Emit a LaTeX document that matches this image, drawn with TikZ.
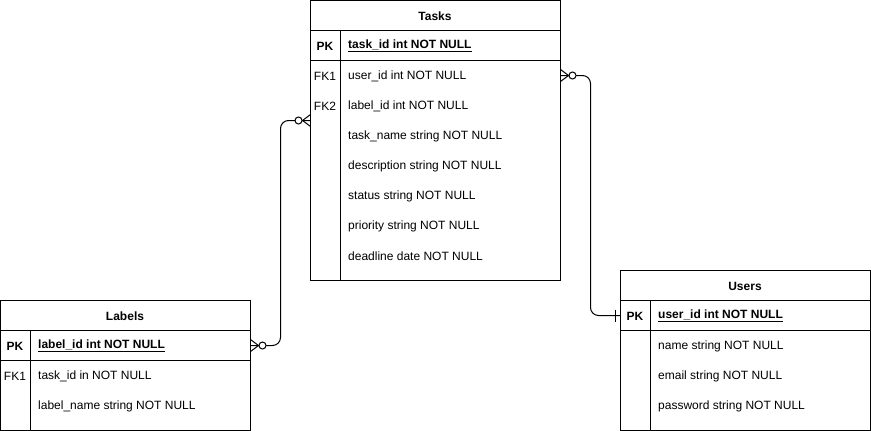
\documentclass[tikz,border=0pt]{standalone}
\usepackage{fontspec}
\setmainfont{Liberation Sans}
\usetikzlibrary{calc}
\begin{document}
\begin{tikzpicture}[x=1pt,y=-1pt,
  tbl/.style={draw=black,line width=1pt,fill=white,anchor=north west,inner sep=0pt,outer sep=0pt},
  hdr/.style={font=\fontsize{12}{14}\selectfont\bfseries,anchor=center,inner sep=0pt},
  key/.style={font=\fontsize{12}{14}\selectfont,anchor=center,inner sep=0pt},
  fld/.style={font=\fontsize{12}{14}\selectfont,anchor=west,inner sep=0pt},
  ln/.style={line width=1pt},
  conn/.style={line width=1pt,rounded corners=8pt},
  zc/.style={line width=1pt,fill=white}
]
\useasboundingbox (0,0) rectangle (871,431);
% ---------------- Tasks ----------------
\node[tbl,minimum width=250pt,minimum height=280pt] (tasks) at (310.5,0.5) {};
\draw[ln] (310.5,30.5) -- (560.5,30.5);
\draw[ln] (310.5,60.5) -- (560.5,60.5);
\draw[ln] (340.5,30.5) -- (340.5,280.5);
\node[hdr] (tasksT) at (435,16) {Tasks};
\node[hdr] (tasksPK) at (325,46) {PK};
\node[fld,font=\fontsize{12}{14}\selectfont\bfseries] (tasksK) at (348,46) {\underline{task\_id int NOT NULL}};
\node[key] (tasksFK1) at (325,76) {FK1};
\node[fld] (tasks1) at (348,76) {user\_id int NOT NULL};
\node[key] (tasksFK2) at (325,106) {FK2};
\node[fld] (tasks2) at (348,106) {label\_id int NOT NULL};
\node[fld] (tasks3) at (348,136) {task\_name string NOT NULL};
\node[fld] (tasks4) at (348,166) {description string NOT NULL};
\node[fld] (tasks5) at (348,196) {status string NOT NULL};
\node[fld] (tasks6) at (348,226) {priority string NOT NULL};
\node[fld] (tasks7) at (348,256) {deadline date NOT NULL};
% ---------------- Labels ----------------
\node[tbl,minimum width=250pt,minimum height=130pt] (labels) at (0.5,300.5) {};
\draw[ln] (0.5,330.5) -- (250.5,330.5);
\draw[ln] (0.5,360.5) -- (250.5,360.5);
\draw[ln] (30.5,330.5) -- (30.5,430.5);
\node[hdr] (labelsT) at (125,316) {Labels};
\node[hdr] (labelsPK) at (15,346) {PK};
\node[fld,font=\fontsize{12}{14}\selectfont\bfseries] (labelsK) at (38,346) {\underline{label\_id int NOT NULL}};
\node[key] (labelsFK1) at (15,376) {FK1};
\node[fld] (labels1) at (38,376) {task\_id in NOT NULL};
\node[fld] (labels2) at (38,406) {label\_name string NOT NULL};
% ---------------- Users ----------------
\node[tbl,minimum width=250pt,minimum height=160pt] (users) at (620.5,270.5) {};
\draw[ln] (620.5,300.5) -- (870.5,300.5);
\draw[ln] (620.5,330.5) -- (870.5,330.5);
\draw[ln] (650.5,300.5) -- (650.5,430.5);
\node[hdr] (usersT) at (745,286) {Users};
\node[hdr] (usersPK) at (635,316) {PK};
\node[fld,font=\fontsize{12}{14}\selectfont\bfseries] (usersK) at (658,316) {\underline{user\_id int NOT NULL}};
\node[fld] (users1) at (658,346) {name string NOT NULL};
\node[fld] (users2) at (658,376) {email string NOT NULL};
\node[fld] (users3) at (658,406) {password string NOT NULL};
% ---------------- connector ends ----------------
\coordinate (lA) at (250.5,345.5);
\coordinate (tA) at (310.5,120.5);
\coordinate (tB) at (560.5,75.5);
\coordinate (uB) at (620.5,315.5);
% Labels -- Tasks
\draw[conn] (lA) -- ++(30,0) |- (tA);
\draw[ln] ($(lA)+(8,0)$) -- ($(lA)+(0,-6)$) ($(lA)+(8,0)$) -- ($(lA)+(0,6)$);
\draw[zc] ($(lA)+(12,0)$) circle (3.5pt);
\draw[ln] ($(tA)+(-8,0)$) -- ($(tA)+(0,-6)$) ($(tA)+(-8,0)$) -- ($(tA)+(0,6)$);
\draw[zc] ($(tA)+(-12,0)$) circle (3.5pt);
% Tasks -- Users
\draw[conn] (tB) -- ++(30,0) |- (uB);
\draw[ln] ($(tB)+(8,0)$) -- ($(tB)+(0,-6)$) ($(tB)+(8,0)$) -- ($(tB)+(0,6)$);
\draw[zc] ($(tB)+(12,0)$) circle (3.5pt);
\draw[ln] ($(uB)+(-5,-6)$) -- ($(uB)+(-5,6)$);
\end{tikzpicture}
\end{document}
